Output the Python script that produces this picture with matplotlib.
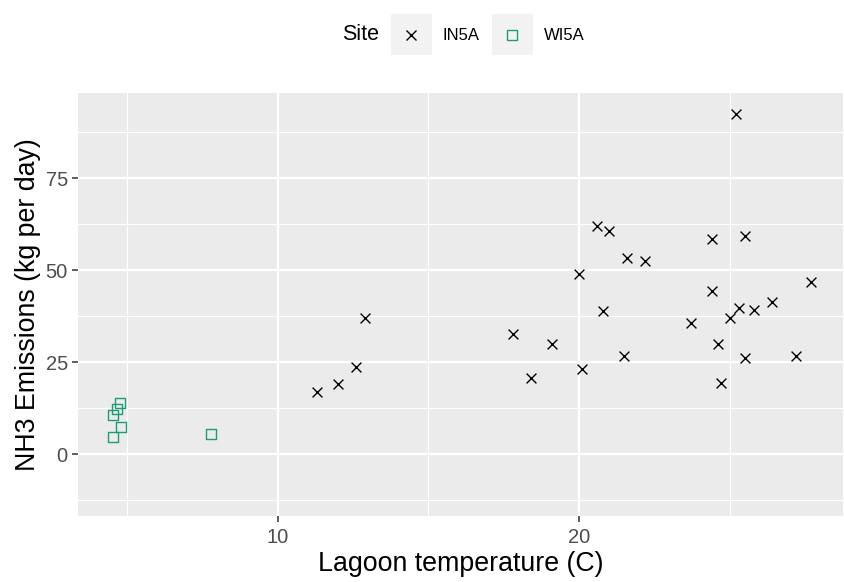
import numpy as np
import matplotlib.pyplot as plt
from matplotlib.lines import Line2D
from matplotlib.patches import Rectangle

plt.rcParams['font.family'] = ['Liberation Sans', 'DejaVu Sans']

# IN5A site
in5a_temp = [11.3, 12.0, 12.6, 12.9, 17.8, 18.4, 19.1, 20.0, 20.1, 20.6, 20.8, 21.0,
             21.5, 21.6, 22.2, 23.7, 24.4, 24.4, 24.6, 24.7, 25.0, 25.2, 25.3, 25.5,
             25.5, 25.8, 26.4, 27.2, 27.7]
in5a_nh3 = [16.8, 19.0, 23.6, 37.0, 32.7, 20.8, 29.9, 49.0, 23.0, 62.0, 39.0, 60.5,
            26.7, 53.4, 52.5, 35.7, 58.5, 44.4, 29.8, 19.2, 36.9, 92.3, 39.7, 59.3,
            26.1, 39.1, 41.2, 26.7, 46.7]
# WI5A site
wi5a_temp = [4.78, 4.66, 4.55, 4.81, 4.55, 7.78]
wi5a_nh3 = [14.0, 12.2, 10.6, 7.4, 4.6, 5.4]

green = '#1B9E77'
grey_txt = '#4D4D4D'

fig = plt.figure(figsize=(8.45, 5.82), dpi=100)
W, H = 845, 582
ax = fig.add_axes([78 / W, 1 - 516 / H, (843 - 78) / W, (516 - 93) / H])
ax.set_facecolor('#EBEBEB')

ax.scatter(in5a_temp, in5a_nh3, marker='x', s=50, c='black', linewidths=1.0, zorder=3)
ax.scatter(wi5a_temp, wi5a_nh3, marker='s', s=50, facecolors='none', edgecolors=green,
           linewidths=1.0, zorder=3)

ax.set_xlim(3.38, 28.75)
ax.set_ylim(-16.8, 98.1)
ax.set_xticks([10, 20])
ax.set_yticks([0, 25, 50, 75])
ax.set_xticks([5, 15, 25], minor=True)
ax.set_yticks([-12.5, 12.5, 37.5, 62.5, 87.5], minor=True)
ax.grid(which='major', color='white', linewidth=1.6)
ax.grid(which='minor', color='white', linewidth=0.8)
ax.set_axisbelow(True)
for s in ax.spines.values():
    s.set_visible(False)
ax.tick_params(which='major', length=4.3, color='#333333', width=1.1, pad=3,
               labelsize=14.5, labelcolor=grey_txt)
ax.tick_params(axis='x', pad=4.5)
ax.tick_params(which='minor', length=0)

ax.set_xlabel('Lagoon temperature (C)', fontsize=19.3, labelpad=3)
ax.set_ylabel('NH3 Emissions (kg per day)', fontsize=19.3, labelpad=3)

# legend on top
fig.text(379 / W, 1 - 35 / H, 'Site', ha='right', va='center', fontsize=15.5)
keys = [('IN5A', 391, 'x', 'black', 'black'), ('WI5A', 492, 's', 'none', green)]
for lab, x0, mk, fc, ec in keys:
    fig.add_artist(Rectangle((x0 / W, 1 - 55 / H), 41 / W, 41 / H,
                             transform=fig.transFigure, facecolor='#F2F2F2',
                             edgecolor='none'))
    fig.add_artist(Line2D([(x0 + 20.5) / W], [1 - 34.5 / H], marker=mk, markersize=7,
                          markerfacecolor=fc, markeredgecolor=ec, markeredgewidth=1.0,
                          linestyle='none', transform=fig.transFigure))
    fig.text((x0 + 52) / W, 1 - 35 / H, lab, ha='left', va='center', fontsize=12)

fig.savefig('out.png', dpi=100)
